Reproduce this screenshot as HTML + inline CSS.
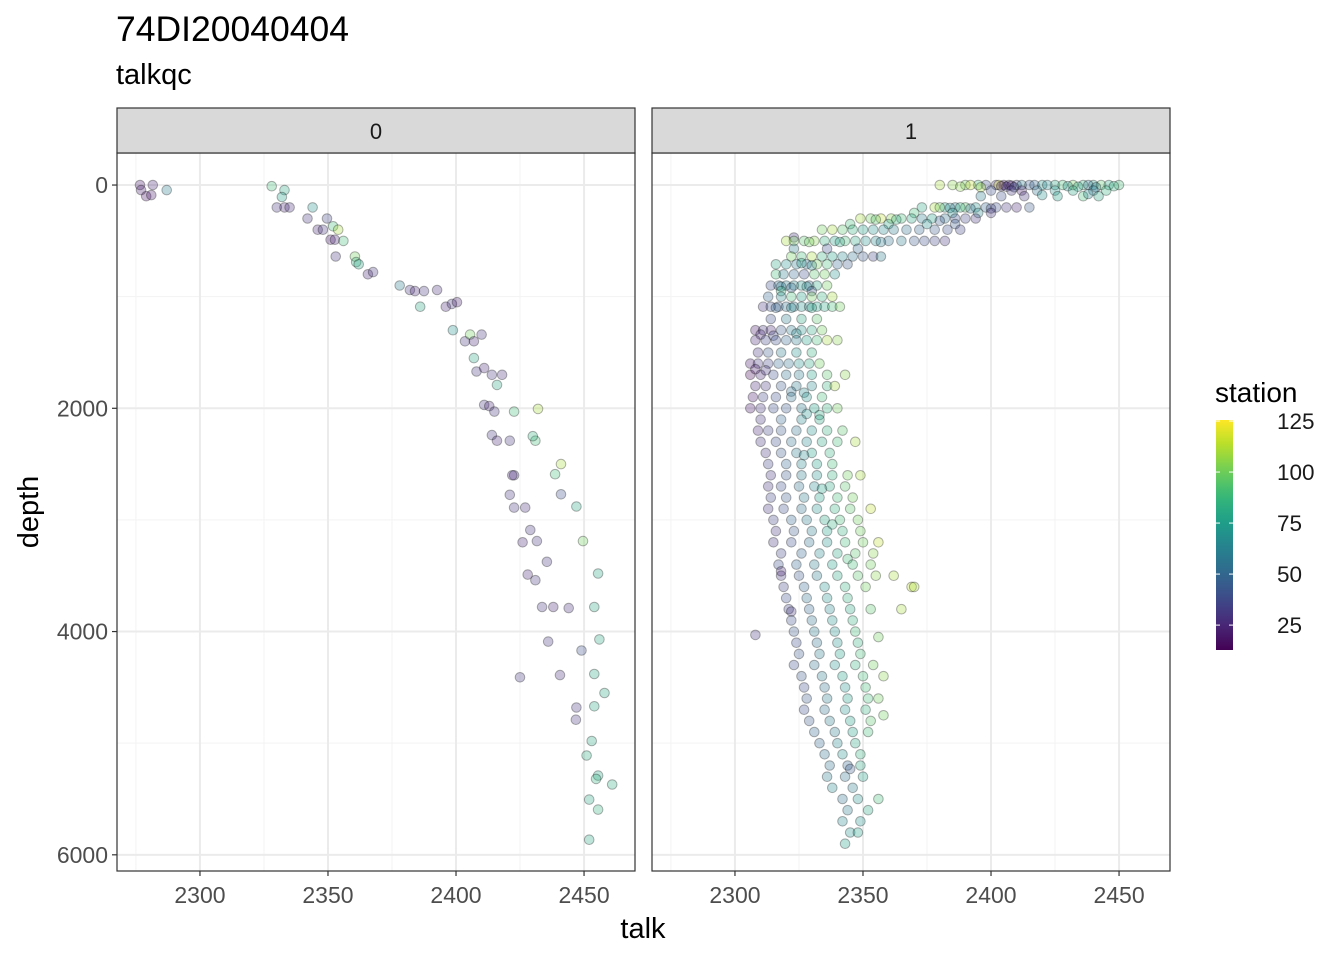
<!DOCTYPE html>
<html><head><meta charset="utf-8"><style>
body{margin:0;background:#fff;}
svg text{font-family:"Liberation Sans",sans-serif;}
</style></head><body>
<svg id="chart" width="1344" height="960" xmlns="http://www.w3.org/2000/svg">
<text x="116" y="41" font-size="35.5" fill="#000">74DI20040404</text>
<text x="116" y="84" font-size="29" fill="#000">talkqc</text>
<text x="643" y="938" font-size="29" text-anchor="middle">talk</text>
<text transform="translate(38,512) rotate(-90)" font-size="29" text-anchor="middle">depth</text>
<g id="panels"></g>
<g id="legend"></g>
</svg>
<script>
const xTicks=[2300,2350,2400,2450];
const xMinor=[2275,2325,2375,2425];
const yTicks=[0,2000,4000,6000];
const yMinor=[1000,3000,5000];
const facetLabels=["0","1"];
const legendTicks=[25,50,75,100,125];
// [talk, depth, station]
const points0=[[2276.6,0,20],[2277,45,22],[2279,100,18],[2281.6,0,25],[2281,90,20],[2287,45,60],
[2328,10,90],[2333,45,80],[2332,107,75],[2330,200,30],[2333,200,25],[2335,200,28],[2344,200,70],[2342,300,30],[2349.6,300,35],[2346,400,25],[2348,400,30],[2352,370,90],[2354,400,110],[2351,490,20],[2352.7,490,25],[2356,500,90],[2353,640,30],[2360.5,640,100],[2361,690,85],[2362,710,80],[2365.6,800,25],[2367.6,780,30],[2378,900,60],[2382,940,30],[2384,950,25],[2387.5,950,30],[2392.6,940,28],[2386,1090,80],[2396,1090,25],[2398.4,1065,30],[2400.4,1050,22],[2398.8,1300,70],[2403.5,1400,30],[2405.5,1340,100],[2410,1340,30],[2407,1400,25],[2407,1550,80],[2408,1670,30],[2411,1640,25],[2414,1700,30],[2418,1700,28],[2416,1790,80],[2411,1970,30],[2413,1980,25],[2415,2030,30],[2422.7,2030,90],[2432,2005,110],[2414,2240,30],[2416,2290,25],[2421,2290,30],[2431,2290,90],[2430,2250,85],[2441,2500,110],[2438.7,2590,90],[2422.7,2600,30],[2422,2600,25],[2421,2775,30],[2441,2770,40],[2422.7,2890,30],[2427,2890,28],[2447,2880,80],[2429,3090,30],[2426,3200,25],[2431.6,3190,30],[2449.6,3190,100],[2435.5,3375,30],[2428,3490,25],[2431,3540,30],[2455.5,3480,80],[2433.6,3780,30],[2438,3780,25],[2444,3790,28],[2454,3780,80],[2436,4090,30],[2456,4070,80],[2449,4170,40],[2425,4410,30],[2440.6,4390,28],[2454,4380,80],[2458,4550,80],[2447,4680,30],[2454,4670,80],[2446.8,4790,30],[2453,4980,80],[2451,5110,82],[2455.5,5290,80],[2454.7,5320,85],[2461,5370,82],[2452,5505,80],[2455.5,5595,85],[2452,5865,80]];
const points1=[
[2380,0,110],[2385,0,105],[2390,0,100],[2395,0,90],[2398,0,40],[2402,0,30],[2405,0,20],[2407,0,25],[2410,0,35],[2412,0,60],[2415,0,45],[2420,0,70],[2425,0,80],[2428,0,90],[2432,0,100],[2436,0,85],[2440,0,75],[2443,0,95],[2446,0,80],[2450,0,90],[2403,0,120],[2392,0,115],[2417,0,50],[2422,0,65],[2438,0,55],
[2404,10,25],[2406,15,30],[2408,5,20],[2409,20,40],[2430,10,70],[2434,15,80],[2441,20,60],[2448,10,85],[2396,20,110],[2388,15,105],
[2400,50,40],[2408,50,30],[2418,50,55],[2425,50,70],[2432,50,80],[2440,50,60],[2445,50,85],[2412,50,20],
[2396,100,60],[2404,100,40],[2413,100,30],[2426,100,75],[2436,100,90],[2442,100,80],[2420,90,70],[2438,80,65],
[2373,200,80],[2378,200,110],[2382,200,75],[2386,200,60],[2390,200,95],[2394,200,70],[2398,200,50],[2402,200,40],[2406,200,30],[2410,200,25],[2415,200,45],[2380,200,100],[2388,200,85],[2400,210,35],[2392,210,55],[2384,205,65],
[2370,250,90],[2385,250,70],[2395,250,65],[2400,250,30],
[2349,300,110],[2353,300,100],[2357,300,115],[2361,300,105],[2365,300,90],[2369,300,80],[2373,300,60],[2377,300,75],[2382,300,55],[2386,300,40],[2390,300,35],[2394,300,30],[2355,310,95],[2363,310,85],[2380,320,45],
[2345,350,90],[2360,350,80],[2375,350,70],[2386,350,45],
[2334,400,100],[2338,400,110],[2342,400,95],[2346,400,85],[2350,400,75],[2354,400,70],[2358,400,65],[2362,400,60],[2367,400,55],[2372,400,50],[2378,400,45],[2383,400,40],[2388,400,35],
[2323,470,30],
[2320,500,110],[2323,500,100],[2327,500,95],[2331,500,105],[2335,500,85],[2339,500,75],[2343,500,90],[2347,500,80],[2351,500,70],[2355,500,65],[2360,500,55],[2365,500,60],[2370,500,45],[2374,500,40],[2378,500,35],[2382,500,30],[2329,510,100],[2341,510,80],[2357,510,60],
[2323,570,60],[2336,570,40],[2348,570,50],
[2322,640,100],[2326,640,90],[2330,640,110],[2334,640,85],[2338,640,75],[2342,640,65],[2346,640,55],[2350,640,45],[2354,640,35],[2357,640,60],
[2316,710,80],[2320,710,70],[2324,710,60],[2328,710,55],[2332,710,100],[2336,710,90],[2340,710,50],[2344,710,45],[2326,700,75],[2330,720,65],
[2316,800,90],[2319,800,60],[2323,800,50],[2327,800,40],[2331,800,95],[2335,800,100],[2339,800,70],
[2314,900,40],[2317,900,55],[2320,900,60],[2323,900,65],[2326,900,70],[2329,900,50],[2332,900,80],[2336,900,100],[2318,910,60],[2322,920,50],[2328,910,70],
[2318,950,85],[2330,950,45],
[2313,1000,50],[2318,1000,65],[2322,1000,90],[2326,1000,75],[2330,1000,100],[2334,1000,85],[2338,1000,110],
[2311,1090,30],[2314,1090,40],[2317,1090,45],[2320,1090,55],[2323,1090,60],[2326,1090,70],[2329,1090,65],[2332,1090,75],[2335,1090,80],[2338,1090,90],[2341,1090,100],[2316,1100,50],[2322,1100,65],[2330,1100,80],
[2314,1200,40],[2320,1200,60],[2326,1200,80],[2332,1200,95],
[2308,1300,20],[2311,1300,30],[2314,1300,25],[2318,1300,45],[2322,1300,60],[2326,1300,70],[2330,1300,80],[2334,1300,100],[2310,1340,25],[2315,1350,35],[2324,1330,65],
[2308,1390,25],[2312,1390,35],[2316,1390,40],[2320,1390,50],[2324,1390,60],[2328,1390,75],[2332,1390,90],[2336,1390,110],[2340,1390,105],
[2309,1500,30],[2313,1500,45],[2318,1500,60],[2324,1500,70],[2330,1500,85],
[2306,1600,20],[2309,1600,30],[2313,1600,35],[2317,1600,50],[2321,1600,55],[2325,1600,70],[2329,1600,80],[2333,1600,100],
[2306,1700,15],[2310,1700,25],[2315,1700,40],[2320,1700,55],[2325,1700,60],[2330,1700,75],[2336,1700,95],[2343,1700,105],[2308,1650,20],[2312,1660,30],
[2308,1800,25],[2312,1800,30],[2318,1800,45],[2324,1800,60],[2330,1800,65],[2336,1800,85],[2339,1800,110],[2322,1850,55],[2327,1860,65],
[2307,1900,20],[2311,1900,35],[2316,1900,40],[2322,1900,55],[2328,1900,70],[2334,1900,90],
[2306,2000,20],[2310,2000,30],[2315,2000,40],[2320,2000,45],[2326,2000,60],[2331,2000,75],[2336,2000,85],[2340,2000,100],[2328,2050,70],[2333,2060,80],
[2310,2100,30],[2318,2100,50],[2326,2100,65],[2333,2100,80],
[2309,2200,25],[2313,2200,35],[2318,2200,45],[2324,2200,55],[2330,2200,70],[2336,2200,85],[2342,2200,95],
[2310,2300,30],[2316,2300,40],[2322,2300,55],[2328,2300,65],[2334,2300,80],[2340,2300,90],[2347,2300,110],
[2312,2400,30],[2318,2400,45],[2324,2400,60],[2330,2400,75],[2337,2400,85],[2327,2420,65],
[2313,2500,35],[2320,2500,50],[2326,2500,65],[2332,2500,75],[2338,2500,90],
[2314,2600,30],[2320,2600,45],[2326,2600,60],[2332,2600,70],[2338,2600,85],[2344,2600,100],[2349,2600,110],
[2313,2700,30],[2318,2700,40],[2325,2700,55],[2331,2700,65],[2337,2700,80],[2343,2700,95],[2334,2720,75],
[2314,2800,35],[2320,2800,45],[2327,2800,60],[2333,2800,75],[2340,2800,90],[2346,2800,100],
[2313,2900,30],[2319,2900,40],[2326,2900,55],[2332,2900,70],[2339,2900,85],[2345,2900,95],[2353,2900,115],
[2315,3000,35],[2322,3000,50],[2328,3000,60],[2335,3000,80],[2341,3000,90],[2348,3000,100],[2338,3040,85],
[2316,3100,30],[2323,3100,45],[2330,3100,60],[2336,3100,75],[2342,3100,85],[2349,3100,100],
[2315,3200,30],[2322,3200,40],[2329,3200,55],[2336,3200,70],[2343,3200,90],[2350,3200,100],[2356,3200,115],
[2318,3300,35],[2326,3300,50],[2333,3300,65],[2340,3300,80],[2347,3300,95],[2354,3300,105],[2344,3350,90],
[2317,3400,40],[2324,3400,50],[2331,3400,60],[2338,3400,75],[2346,3400,90],[2353,3400,100],
[2318,3500,30],[2325,3500,45],[2332,3500,60],[2340,3500,80],[2348,3500,95],[2355,3500,105],[2362,3500,110],[2318,3460,25],
[2319,3600,35],[2327,3600,50],[2335,3600,70],[2343,3600,85],[2351,3600,100],[2369,3600,115],[2370,3600,110],
[2320,3700,40],[2328,3700,55],[2336,3700,70],[2344,3700,85],
[2321,3800,35],[2329,3800,50],[2337,3800,65],[2345,3800,80],[2353,3800,95],[2365,3800,110],[2322,3820,30],
[2322,3900,40],[2330,3900,55],[2338,3900,70],[2346,3900,85],
[2308,4030,30],[2323,4000,45],[2331,4000,60],[2339,4000,70],[2347,4000,90],[2356,4050,100],
[2324,4100,40],[2332,4100,55],[2340,4100,70],[2348,4100,85],
[2325,4200,45],[2333,4200,60],[2341,4200,75],[2349,4200,90],
[2323,4300,40],[2331,4300,55],[2339,4300,70],[2347,4300,85],[2354,4300,100],
[2326,4400,45],[2334,4400,60],[2342,4400,75],[2350,4400,90],[2358,4400,105],
[2327,4500,40],[2335,4500,55],[2343,4500,70],[2351,4500,90],
[2328,4600,45],[2336,4600,60],[2344,4600,75],[2352,4600,90],[2356,4600,100],
[2327,4700,40],[2335,4700,55],[2343,4700,70],[2351,4700,85],[2358,4750,100],
[2329,4800,45],[2337,4800,60],[2345,4800,75],[2353,4800,95],
[2331,4900,50],[2339,4900,60],[2346,4900,75],[2352,4900,90],
[2333,5000,50],[2340,5000,65],[2347,5000,80],
[2335,5100,55],[2342,5100,70],[2349,5100,85],
[2337,5200,55],[2344,5200,50],[2349,5200,80],[2345,5230,45],
[2336,5300,60],[2343,5300,55],[2350,5300,75],
[2338,5400,65],[2346,5400,60],
[2342,5500,55],[2348,5500,70],[2356,5500,90],
[2344,5600,60],[2352,5600,80],
[2342,5700,65],[2349,5700,70],
[2345,5800,70],[2348,5800,75],
[2343,5900,75]];
const allPoints=[points0,points1];

const NS="http://www.w3.org/2000/svg";
function mk(tag,attrs,parent){const e=document.createElementNS(NS,tag);for(const k in attrs)e.setAttribute(k,attrs[k]);parent.appendChild(e);return e;}
const vir=[[68,1,84],[72,40,120],[62,74,137],[49,104,142],[38,130,142],[31,158,137],[53,183,121],[110,206,88],[181,222,43],[253,231,37]];
function viridis(t){t=Math.max(0,Math.min(1,t));const f=t*(vir.length-1);const i=Math.min(vir.length-2,Math.floor(f));const r=f-i;const c=vir[i].map((v,k)=>Math.round(v+(vir[i+1][k]-v)*r));return `rgb(${c[0]},${c[1]},${c[2]})`;}
const sMin=12.8,sMax=125.5;
function sColor(s){return viridis((s-sMin)/(sMax-sMin));}
const panelsX=[117,652],pW=518,pTop=153,pBot=871;
const xMin=2267.6,xMax=2469.9,yMin=-287,yMax=6145;
const panelsG=document.getElementById('panels');
panelsX.forEach((px,pi)=>{
  const xs=v=>px+(v-xMin)/(xMax-xMin)*pW;
  const ys=v=>pTop+(v-yMin)/(yMax-yMin)*(pBot-pTop);
  const g=mk('g',{},panelsG);
  
  
  mk('rect',{x:px,y:pTop,width:pW,height:pBot-pTop,fill:'#fff'},g);
  xMinor.forEach(v=>mk('line',{x1:xs(v),x2:xs(v),y1:pTop,y2:pBot,stroke:'#f3f3f3','stroke-width':1},g));
  yMinor.forEach(v=>mk('line',{x1:px,x2:px+pW,y1:ys(v),y2:ys(v),stroke:'#f3f3f3','stroke-width':1},g));
  xTicks.forEach(v=>mk('line',{x1:xs(v),x2:xs(v),y1:pTop,y2:pBot,stroke:'#ebebeb','stroke-width':2},g));
  yTicks.forEach(v=>mk('line',{x1:px,x2:px+pW,y1:ys(v),y2:ys(v),stroke:'#ebebeb','stroke-width':2},g));
  allPoints[pi].forEach(p=>{
    const c=mk('circle',{cx:xs(p[0]).toFixed(1),cy:ys(p[1]).toFixed(1),r:4.8,fill:sColor(p[2]),'fill-opacity':0.3,stroke:'#000','stroke-opacity':0.3,'stroke-width':1},g);
    
    
  });
  mk('rect',{x:px,y:pTop,width:pW,height:pBot-pTop,fill:'none',stroke:'#333','stroke-width':1.2},g);
  const strip=mk('rect',{x:px,y:108,width:pW,height:45,fill:'#d9d9d9',stroke:'#333','stroke-width':1.2},g);
  
  
  const st=mk('text',{x:px+pW/2,y:139,'font-size':22,'text-anchor':'middle',fill:'#1a1a1a'},g);st.textContent=facetLabels[pi];
  
  
  xTicks.forEach(v=>{
    mk('line',{x1:xs(v),x2:xs(v),y1:pBot,y2:pBot+5,stroke:'#333','stroke-width':1.2},g);
    const t=mk('text',{x:xs(v),y:903,'font-size':23,'text-anchor':'middle',fill:'#4d4d4d'},g);t.textContent=v;
    
    
  });
  if(pi===0){
    yTicks.forEach(v=>{
      mk('line',{x1:px-5,x2:px,y1:ys(v),y2:ys(v),stroke:'#333','stroke-width':1.2},g);
      const t=mk('text',{x:px-9,y:ys(v)+8,'font-size':23,'text-anchor':'end',fill:'#4d4d4d'},g);t.textContent=v;
      
      
    });
  }
});
// legend
const lg=document.getElementById('legend');
const lt=mk('text',{x:1215,y:402,'font-size':28},lg);lt.textContent='station';


const defs=mk('defs',{},lg);
const grad=mk('linearGradient',{id:'vg',x1:0,y1:1,x2:0,y2:0},defs);
for(let i=0;i<=20;i++){mk('stop',{offset:(i/20),'stop-color':viridis(i/20)},grad);}
const barTop=420,barBot=650;
const bar=mk('rect',{x:1216,y:barTop,width:17,height:barBot-barTop,fill:'url(#vg)'},lg);


legendTicks.forEach(v=>{
  const y=barBot-(v-sMin)/(sMax-sMin)*(barBot-barTop);
  mk('line',{x1:1216,x2:1220,y1:y,y2:y,stroke:'#fff','stroke-width':1},lg);
  mk('line',{x1:1229,x2:1233,y1:y,y2:y,stroke:'#fff','stroke-width':1},lg);
  const t=mk('text',{x:1277,y:y+8,'font-size':22.5,fill:'#1a1a1a'},lg);t.textContent=v;
  
  
});
</script>
</body></html>
